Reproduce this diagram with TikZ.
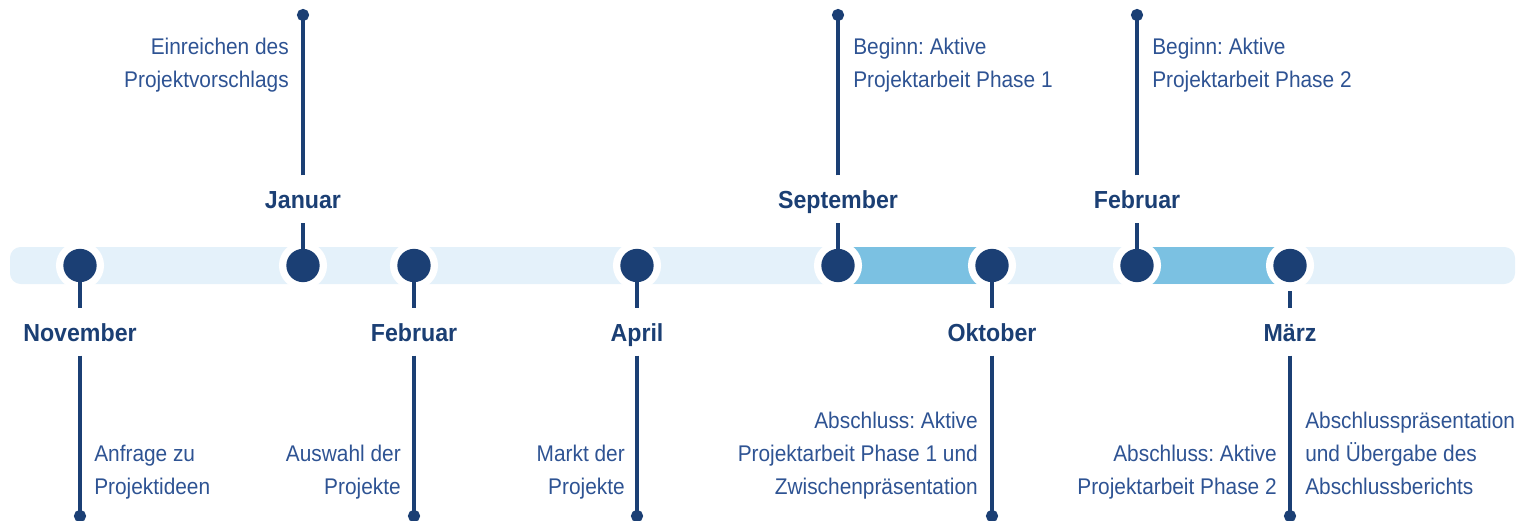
\documentclass[tikz,border=0pt]{standalone}
\usepackage{fontspec}
\setmainfont{Liberation Sans}
\newfontfamily\tltext[FakeStretch=0.92]{Liberation Sans}
\newfontfamily\tlmonth[FakeStretch=0.94]{Liberation Sans}
\usetikzlibrary{arrows.meta}
\frenchspacing

\definecolor{navy}{HTML}{1B3F74}
\definecolor{textblue}{HTML}{2E5393}
\definecolor{barlight}{HTML}{E4F1FA}
\definecolor{barmid}{HTML}{7BC1E2}

\tikzset{
  dot/.style={circle, inner sep=0pt, minimum size=25pt, fill=navy,
    preaction={draw=white, line width=11pt}},
  month/.style={font=\tlmonth\bfseries\fontsize{18.5}{20}\selectfont,
    text=navy, inner sep=0pt, text height=13.5pt, text depth=0pt,
    minimum height=35pt},
  info/.style={font=\tltext\fontsize{17}{24.75}\selectfont,
    text=textblue, inner sep=0pt},
  stem/.style={draw=navy, line width=3pt},
  pin/.style={stem, -{Circle[length=9pt]}},
}

\begin{document}
\begin{tikzpicture}[x=0.75pt, y=-0.75pt]
\useasboundingbox (0,0) rectangle (1517,521);

% points on the time line
\coordinate (nov) at (80,265.5);
\coordinate (jan) at (303,265.5);
\coordinate (feb) at (414,265.5);
\coordinate (apr) at (637,265.5);
\coordinate (sep) at (838,265.5);
\coordinate (okt) at (992,265.5);
\coordinate (febb) at (1137,265.5);
\coordinate (mrz) at (1290,265.5);

% bar with the two project phases
\fill[barlight, rounded corners=8pt] (10,247) rectangle (1515,284);
\fill[barmid] ([yshift=13.9pt]sep) rectangle ([yshift=-13.9pt]okt);
\fill[barmid] ([yshift=13.9pt]febb) rectangle ([yshift=-13.9pt]mrz);

\foreach \m in {nov,jan,feb,apr,sep,okt,febb,mrz}
  \node[dot] (\m-d) at (\m) {};

% months above
\node[month] (janL) at (303,199) {Januar};
\node[month] (sepL) at (838,199) {September};
\node[month] (febbL) at (1137,199) {Februar};
\coordinate (janE) at (303,9);
\coordinate (sepE) at (838,9);
\coordinate (febbE) at (1137,9);

% months below
\node[month] (novL) at (80,332) {November};
\node[month] (febL) at (414,332) {Februar};
\node[month] (aprL) at (637,332) {April};
\node[month] (oktL) at (992,332) {Oktober};
\node[month] (mrzL) at (1290,332) {März};
\coordinate (novE) at (80,522);
\coordinate (febE) at (414,522);
\coordinate (aprE) at (637,522);
\coordinate (oktE) at (992,522);
\coordinate (mrzE) at (1290,522);

\foreach \m in {jan,sep,febb,nov,feb,apr,okt}{
  \draw[stem] (\m-d) -- (\m L);
  \draw[pin] (\m L) -- (\m E);
}
\draw[stem, shorten <=6.5pt] (mrz-d) -- (mrzL);
\draw[pin] (mrzL) -- (mrzE);

% descriptions
\node[info, anchor=north east, align=right] (janT) at (289,37.5)
  {Einreichen des\\Projektvorschlags};
\node[info, anchor=north west, align=left] (sepT) at (853,37.5)
  {Beginn: Aktive\\Projektarbeit Phase 1};
\node[info, anchor=north west, align=left] (febbT) at (1152,37.5)
  {Beginn: Aktive\\Projektarbeit Phase 2};
\node[info, anchor=north west, align=left] (novT) at (94,444.5)
  {Anfrage zu\\Projektideen};
\node[info, anchor=north east, align=right] (febT) at (401,444.5)
  {Auswahl der\\Projekte};
\node[info, anchor=north east, align=right] (aprT) at (625,444.5)
  {Markt der\\Projekte};
\node[info, anchor=north east, align=right] (oktT) at (978,411.5)
  {Abschluss: Aktive\\Projektarbeit Phase 1 und\\Zwischenpräsentation};
\node[info, anchor=north east, align=right] (mrzT) at (1277,444.5)
  {Abschluss: Aktive\\Projektarbeit Phase 2};
\node[info, anchor=north west, align=left] (mrzR) at (1305,411.5)
  {Abschlusspräsentation\\und Übergabe des\\Abschlussberichts};

\end{tikzpicture}
\end{document}
